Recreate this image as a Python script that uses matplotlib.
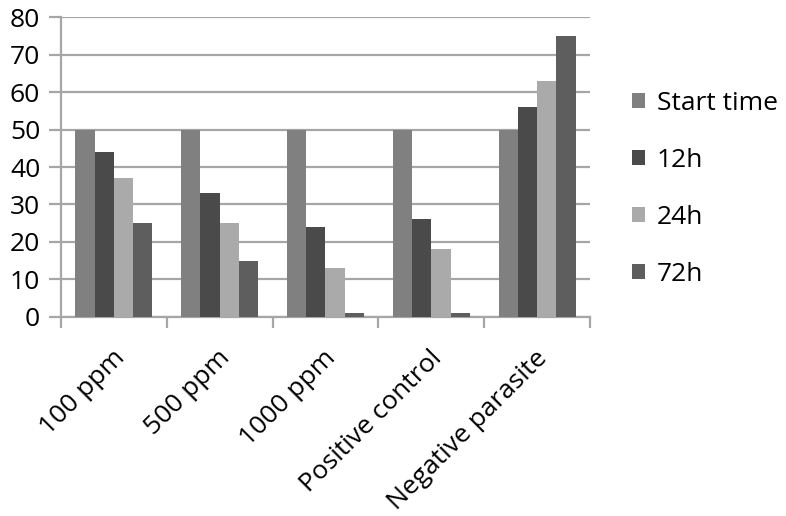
import matplotlib
matplotlib.use("Agg")
import matplotlib.pyplot as plt
import matplotlib.patches as mpatches
import matplotlib.transforms as mtransforms
import numpy as np

plt.rcParams["font.family"] = ["Open Sans", "DejaVu Sans"]

categories = ["100 ppm", "500 ppm", "1000 ppm", "Positive control", "Negative parasite"]
series_names = ["Start time", "12h", "24h", "72h"]
start_time = [50, 50, 50, 50, 50]
h12 = [44, 33, 24, 26, 56]
h24 = [37, 25, 13, 18, 63]
h72 = [25, 15, 1, 1, 75]
colors = ["#808080", "#4a4a4a", "#aaaaaa", "#5e5e5e"]

GRID = "#a6a6a6"
FS = 19

fig = plt.figure(figsize=(7.86, 5.16), dpi=100)
ax = fig.add_axes([0.0776, 0.3857, 0.673, 0.5813])

x = np.arange(len(categories))
n = len(series_names)
bw = 1.0 / (n + 1.5)
for i, (vals, c) in enumerate(zip([start_time, h12, h24, h72], colors)):
    offs = (i - (n - 1) / 2) * bw
    ax.bar(x + offs, vals, width=bw, color=c, edgecolor="none", zorder=3)

ax.set_xlim(-0.5, len(categories) - 0.5)
ax.set_ylim(0, 80)
ax.set_yticks(range(0, 81, 10))
ax.grid(axis="y", color=GRID, lw=1.6, zorder=0)
ax.set_axisbelow(True)

for s in ["top", "right"]:
    ax.spines[s].set_visible(False)
for s in ["left", "bottom"]:
    ax.spines[s].set_color(GRID)
    ax.spines[s].set_linewidth(1.6)

ax.tick_params(axis="y", length=9, width=1.6, color=GRID, labelsize=FS, pad=6)
ax.set_xticks(np.arange(-0.5, len(categories)), minor=False)
ax.set_xticklabels([])
ax.tick_params(axis="x", which="major", length=8, width=1.6, color=GRID)
ax.set_xticks(x, minor=True)
ax.set_xticklabels(categories, minor=True, rotation=45, ha="right", va="center",
                   rotation_mode="anchor", fontsize=FS)
ax.tick_params(axis="x", which="minor", length=0, pad=27)
shift = mtransforms.ScaledTranslation(5 / 72, 0, fig.dpi_scale_trans)
for lbl in ax.get_xticklabels(minor=True):
    lbl.set_transform(lbl.get_transform() + shift)

handles = [mpatches.Patch(facecolor=c, edgecolor="none", label=nm)
           for nm, c in zip(series_names, colors)]
fig.legend(handles=handles, loc="center left", bbox_to_anchor=(0.804, 0.634),
           frameon=False, fontsize=FS, labelspacing=1.22, borderpad=0,
           borderaxespad=0, handlelength=0.5, handleheight=0.5,
           handletextpad=0.45)

fig.savefig("out.png", dpi=100)
